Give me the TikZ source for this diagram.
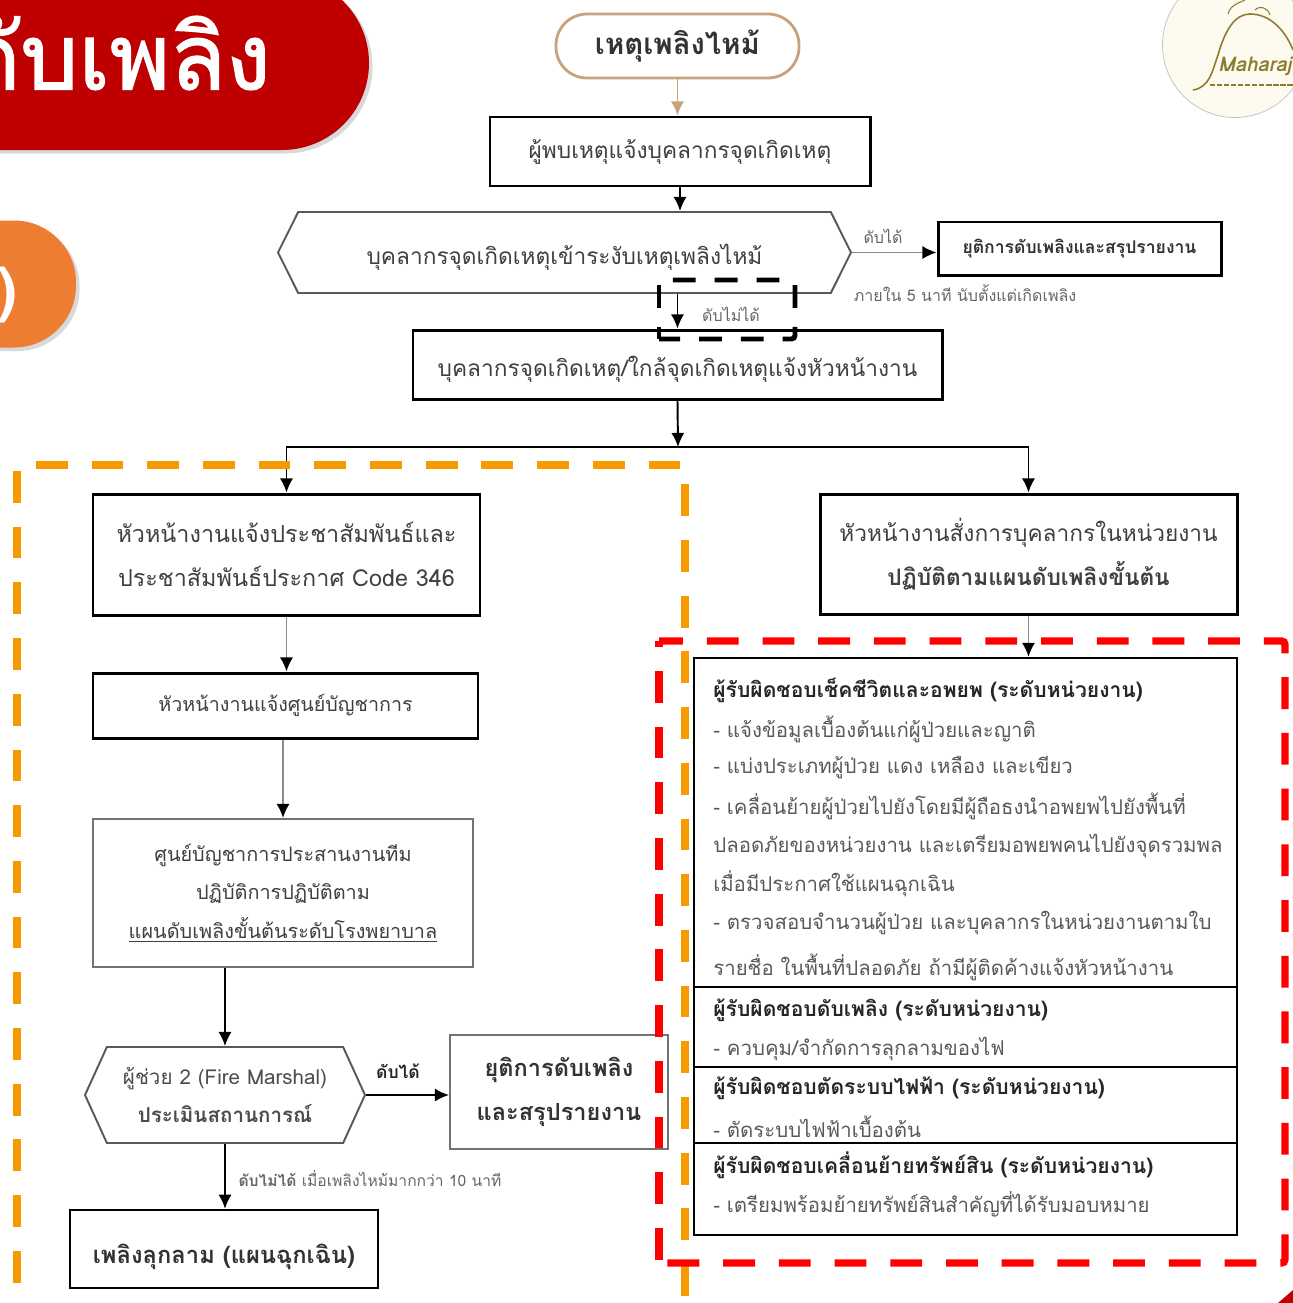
\documentclass[tikz,border=0pt]{standalone}
\usepackage{fontspec}
\usepackage[table, x11names]{xcolor}
\usepackage{tikz}
\usetikzlibrary{arrows.meta,shapes.symbols,shadows}
\setmainfont[Script=Thai]{Loma}
\newfontfamily\titlefont[Script=Thai,FakeBold=1.5]{Loma}
\definecolor{titlered}{HTML}{BE0000}
\definecolor{badgeorange}{HTML}{ED7D31}
\definecolor{zoneorange}{HTML}{F79A00}
\definecolor{startline}{HTML}{C9A27C}
\definecolor{logocream}{HTML}{FDFBEF}
\definecolor{logobrown}{HTML}{8F7B2C}
\tikzset{
  bigbox/.style={draw,line width=1.7pt,fill=white,align=center,inner sep=0pt},
  thinbox/.style={draw=black!55,line width=1.2pt,fill=white,align=center,inner sep=0pt},
  hexbox/.style={draw=black!65,line width=1.1pt,fill=white,align=center,inner sep=0pt,signal,signal to=west and east},
  secbox/.style={draw,line width=1.3pt,minimum width=10.86cm,xshift=19.31cm},
  bodytext/.style={font=\fontsize{12.9}{25}\selectfont,text=black!75},
  smalltext/.style={font=\fontsize{9.1}{12}\selectfont,text=black!60},
  duty/.style={anchor=west,inner sep=0pt,xshift=14.26cm,font=\fontsize{11.6}{14}\selectfont,text=black!65},
  dutyhead/.style={anchor=west,inner sep=0pt,xshift=14.26cm,font=\fontsize{12}{14}\selectfont\bfseries,text=black!85},
  flow/.style={line width=1.1pt,-{Latex[length=8pt,width=7.5pt]}},
  faintflow/.style={flow,draw=black!45,-{Latex[length=8pt,width=7.5pt,black]}},
  zone/.style={line width=4.2pt,dash pattern=on 18.1pt off 13.6pt},
  smallzone/.style={line width=2.8pt,dash pattern=on 13pt off 10.8pt}
}

\begin{document}
\begin{tikzpicture}
  \useasboundingbox (0,0) rectangle (25.86,-26.06);

  \node[fill=logocream,draw=black!25,circle,minimum size=2.9cm,xshift=24.7cm,yshift=-0.9cm](logo){};
  \draw[logobrown,line width=0.9pt] (23.86,-1.8) .. controls (24.2,-1.75) and (24.25,-1.4) .. (24.36,-1.1) .. controls (24.5,-0.6) and (24.7,-0.28) .. (25,-0.28) .. controls (25.4,-0.28) and (25.7,-0.6) .. (25.86,-1);
  \draw[logobrown,line width=0.6pt] (24.56,-0.28) .. controls (24.6,-0.1) and (24.8,-0.05) .. (24.9,0) (25.4,-0.3) .. controls (25.35,-0.15) and (25.2,-0.1) .. (25.1,-0.2);
  \draw[logobrown,line width=0.7pt,dash pattern=on 3pt off 1pt] (24.2,-1.7) -- (25.86,-1.7);
  \node[anchor=west,inner sep=0pt,xshift=24.36cm,yshift=-1.32cm,text=logobrown,font=\fontsize{11.5}{13}\selectfont\itshape\bfseries](logoname){Maharaj};

  \node[fill=titlered,rounded corners=1.74cm,minimum width=10cm,minimum height=3.48cm,xshift=2.38cm,yshift=-1.26cm,drop shadow={opacity=0.3,shadow xshift=2pt,shadow yshift=-2pt}](titlebar){};
  \node[anchor=east,inner sep=0pt,xshift=5.42cm,yshift=-1.06cm,text=white,font=\fontsize{52}{56}\selectfont\titlefont](title){ดับเพลิง};
  \node[fill=badgeorange,rounded corners=1.24cm,minimum width=6cm,minimum height=2.54cm,xshift=-1.48cm,yshift=-5.68cm,drop shadow={opacity=0.3,shadow xshift=2pt,shadow yshift=-2pt}](badge){};
  \node[anchor=east,inner sep=0pt,xshift=0.36cm,yshift=-5.9cm,text=white,font=\fontsize{34}{38}\selectfont\bfseries](badgetext){)};

  \node[draw=startline,line width=1.6pt,rounded corners=0.62cm,fill=white,minimum width=4.86cm,minimum height=1.28cm,xshift=13.55cm,yshift=-0.92cm,font=\fontsize{16.7}{20}\selectfont\bfseries,text=black!80](fire){เหตุเพลิงไหม้};
  \node[bigbox,bodytext,minimum width=7.6cm,minimum height=1.38cm,xshift=13.6cm,yshift=-3.03cm](finder){ผู้พบเหตุแจ้งบุคลากรจุดเกิดเหตุ};
  \node[hexbox,bodytext,text height=17pt,minimum width=11.46cm,minimum height=1.62cm,signal pointer angle=127,xshift=11.29cm,yshift=-5.05cm](firstaid){บุคลากรจุดเกิดเหตุเข้าระงับเหตุเพลิงไหม้};
  \node[bigbox,minimum width=5.66cm,minimum height=1.06cm,xshift=21.59cm,yshift=-4.97cm,font=\fontsize{10}{12}\selectfont\bfseries,text=black!80](stopsmall){ยุติการดับเพลิงและสรุปรายงาน};
  \node[bigbox,bodytext,text height=17pt,minimum width=10.58cm,minimum height=1.38cm,xshift=13.55cm,yshift=-7.29cm](staff){บุคลากรจุดเกิดเหตุ/ใกล้จุดเกิดเหตุแจ้งหัวหน้างาน};

  \node[smalltext,xshift=17.66cm,yshift=-4.72cm](okone){ดับได้};
  \node[smalltext,xshift=19.3cm,yshift=-5.86cm](within){ภายใน 5 นาที นับตั้งแต่เกิดเพลิง};
  \node[smalltext,xshift=14.62cm,yshift=-6.28cm](failone){ดับไม่ได้};

  \node[bigbox,bodytext,font=\fontsize{13.3}{25}\selectfont,minimum width=7.74cm,minimum height=2.42cm,xshift=5.73cm,yshift=-11.09cm](leader){หัวหน้างานแจ้งประชาสัมพันธ์และ\\ประชาสัมพันธ์ประกาศ Code 346};
  \node[bigbox,bodytext,font=\fontsize{11.2}{14}\selectfont,minimum width=7.7cm,minimum height=1.3cm,xshift=5.71cm,yshift=-14.11cm](command){หัวหน้างานแจ้งศูนย์บัญชาการ};
  \node[thinbox,bodytext,minimum width=7.6cm,minimum height=2.96cm,xshift=5.66cm,yshift=-17.86cm,font=\fontsize{11.3}{22}\selectfont](centre){ศูนย์บัญชาการประสานงานทีม\\ปฏิบัติการปฏิบัติตาม\\\underline{แผนดับเพลิงขั้นต้นระดับโรงพยาบาล}};
  \node[hexbox,minimum width=5.6cm,minimum height=1.92cm,signal pointer angle=131,xshift=4.5cm,yshift=-21.9cm,font=\fontsize{11.7}{21.5}\selectfont,text=black!70](marshal){ผู้ช่วย 2 (Fire Marshal)\\\textbf{ประเมินสถานการณ์}};
  \node[thinbox,minimum width=4.36cm,minimum height=2.28cm,xshift=11.18cm,yshift=-21.84cm,font=\fontsize{13.4}{25}\selectfont\bfseries,text=black!80](stopbig){ยุติการดับเพลิง\\และสรุปรายงาน};
  \node[bigbox,line width=1.4pt,text height=20pt,minimum width=6.16cm,minimum height=1.56cm,xshift=4.48cm,yshift=-24.98cm,font=\fontsize{13.5}{18}\selectfont\bfseries,text=black!80](spread){เพลิงลุกลาม (แผนฉุกเฉิน)};

  \node[smalltext,text=black!85,font=\fontsize{10}{12}\selectfont\bfseries,xshift=7.96cm,yshift=-21.42cm](oktwo){ดับได้};
  \node[smalltext,font=\fontsize{8.9}{12}\selectfont,xshift=7.4cm,yshift=-23.56cm](failtwo){\textbf{ดับไม่ได้} เมื่อเพลิงไหม้มากกว่า 10 นาที};

  \node[bigbox,bodytext,minimum width=8.34cm,minimum height=2.4cm,xshift=20.57cm,yshift=-11.08cm](order){หัวหน้างานสั่งการบุคลากรในหน่วยงาน\\\textbf{ปฏิบัติตามแผนดับเพลิงขั้นต้น}};

  \node[secbox,minimum height=6.58cm,yshift=-16.45cm](lifesec){};
  \node[secbox,minimum height=1.6cm,yshift=-20.54cm](firesec){};
  \node[secbox,minimum height=1.52cm,yshift=-22.1cm](powersec){};
  \node[secbox,minimum height=1.84cm,yshift=-23.78cm](assetsec){};

  \node[dutyhead,yshift=-13.8cm](lifehead){ผู้รับผิดชอบเช็คชีวิตและอพยพ (ระดับหน่วยงาน)};
  \node[duty,yshift=-14.58cm](lifea){- แจ้งข้อมูลเบื้องต้นแก่ผู้ป่วยและญาติ};
  \node[duty,yshift=-15.36cm](lifeb){- แบ่งประเภทผู้ป่วย แดง เหลือง และเขียว};
  \node[duty,yshift=-16.12cm](lifec){- เคลื่อนย้ายผู้ป่วยไปยังโดยมีผู้ถือธงนำอพยพไปยังพื้นที่};
  \node[duty,yshift=-16.92cm](lifed){ปลอดภัยของหน่วยงาน และเตรียมอพยพคนไปยังจุดรวมพล};
  \node[duty,yshift=-17.68cm](lifee){เมื่อมีประกาศใช้แผนฉุกเฉิน};
  \node[duty,yshift=-18.46cm](lifef){- ตรวจสอบจำนวนผู้ป่วย และบุคลากรในหน่วยงานตามใบ};
  \node[duty,yshift=-19.34cm](lifeg){รายชื่อ ในพื้นที่ปลอดภัย ถ้ามีผู้ติดค้างแจ้งหัวหน้างาน};
  \node[dutyhead,yshift=-20.2cm](firehead){ผู้รับผิดชอบดับเพลิง (ระดับหน่วยงาน)};
  \node[duty,yshift=-20.98cm](firea){- ควบคุม/จำกัดการลุกลามของไฟ};
  \node[dutyhead,yshift=-21.76cm](powerhead){ผู้รับผิดชอบตัดระบบไฟฟ้า (ระดับหน่วยงาน)};
  \node[duty,yshift=-22.54cm](powera){- ตัดระบบไฟฟ้าเบื้องต้น};
  \node[dutyhead,yshift=-23.3cm](assethead){ผู้รับผิดชอบเคลื่อนย้ายทรัพย์สิน (ระดับหน่วยงาน)};
  \node[duty,yshift=-24.08cm](asseta){- เตรียมพร้อมย้ายทรัพย์สินสำคัญที่ได้รับมอบหมาย};

  \coordinate[xshift=13.56cm,yshift=-8.94cm] (split);
  \draw[flow,draw=startline] (fire.south) -- (finder.north -| fire.south);
  \draw[flow] (finder.south) -- (finder.south |- firstaid.north);
  \draw[faintflow] (firstaid.east) -- (stopsmall.west |- firstaid.east);
  \draw[flow] (staff.north |- firstaid.south) -- (staff.north);
  \draw[flow] (staff.south) -- (split);
  \draw[flow] (split) -| (leader.north);
  \draw[flow] (split) -| (order.north);
  \draw[faintflow] (leader.south) -- (leader.south |- command.north);
  \draw[faintflow] (command.south -| centre.north) -- (centre.north);
  \draw[flow] (centre.south -| marshal.north) -- (marshal.north);
  \draw[flow] (marshal.east) -- (marshal.east -| stopbig.west);
  \draw[flow] (marshal.south) -- (marshal.south |- spread.north);
  \draw[faintflow] (order.south) -- (order.south |- lifesec.north);

  \fill[titlered] (25.56,-26.06) -- (25.86,-25.8) -- (25.86,-26.06) -- cycle;

  \draw[zone,zoneorange,dash phase=21pt] (0.34,-9.3) -- (13.7,-9.3) -- (13.7,-26.06);
  \draw[zone,zoneorange,dash phase=28.3pt] (0.34,-9.3) -- (0.34,-26.06);
  \draw[zone,red,dash phase=4.5pt,rounded corners=2pt] (13.18,-12.82) -- (25.7,-12.82) -- (25.7,-25.26) -- (13.18,-25.26);
  \draw[zone,red,dash phase=14.7pt] (13.18,-12.82) -- (13.18,-25.26);
  \draw[smallzone,dash phase=15.9pt,rounded corners=2pt] (13.18,-5.6) -- (15.9,-5.6) -- (15.9,-6.78) -- (13.18,-6.78);
  \draw[smallzone,dash phase=21pt] (13.18,-5.6) -- (13.18,-6.78);
\end{tikzpicture}
\end{document}
